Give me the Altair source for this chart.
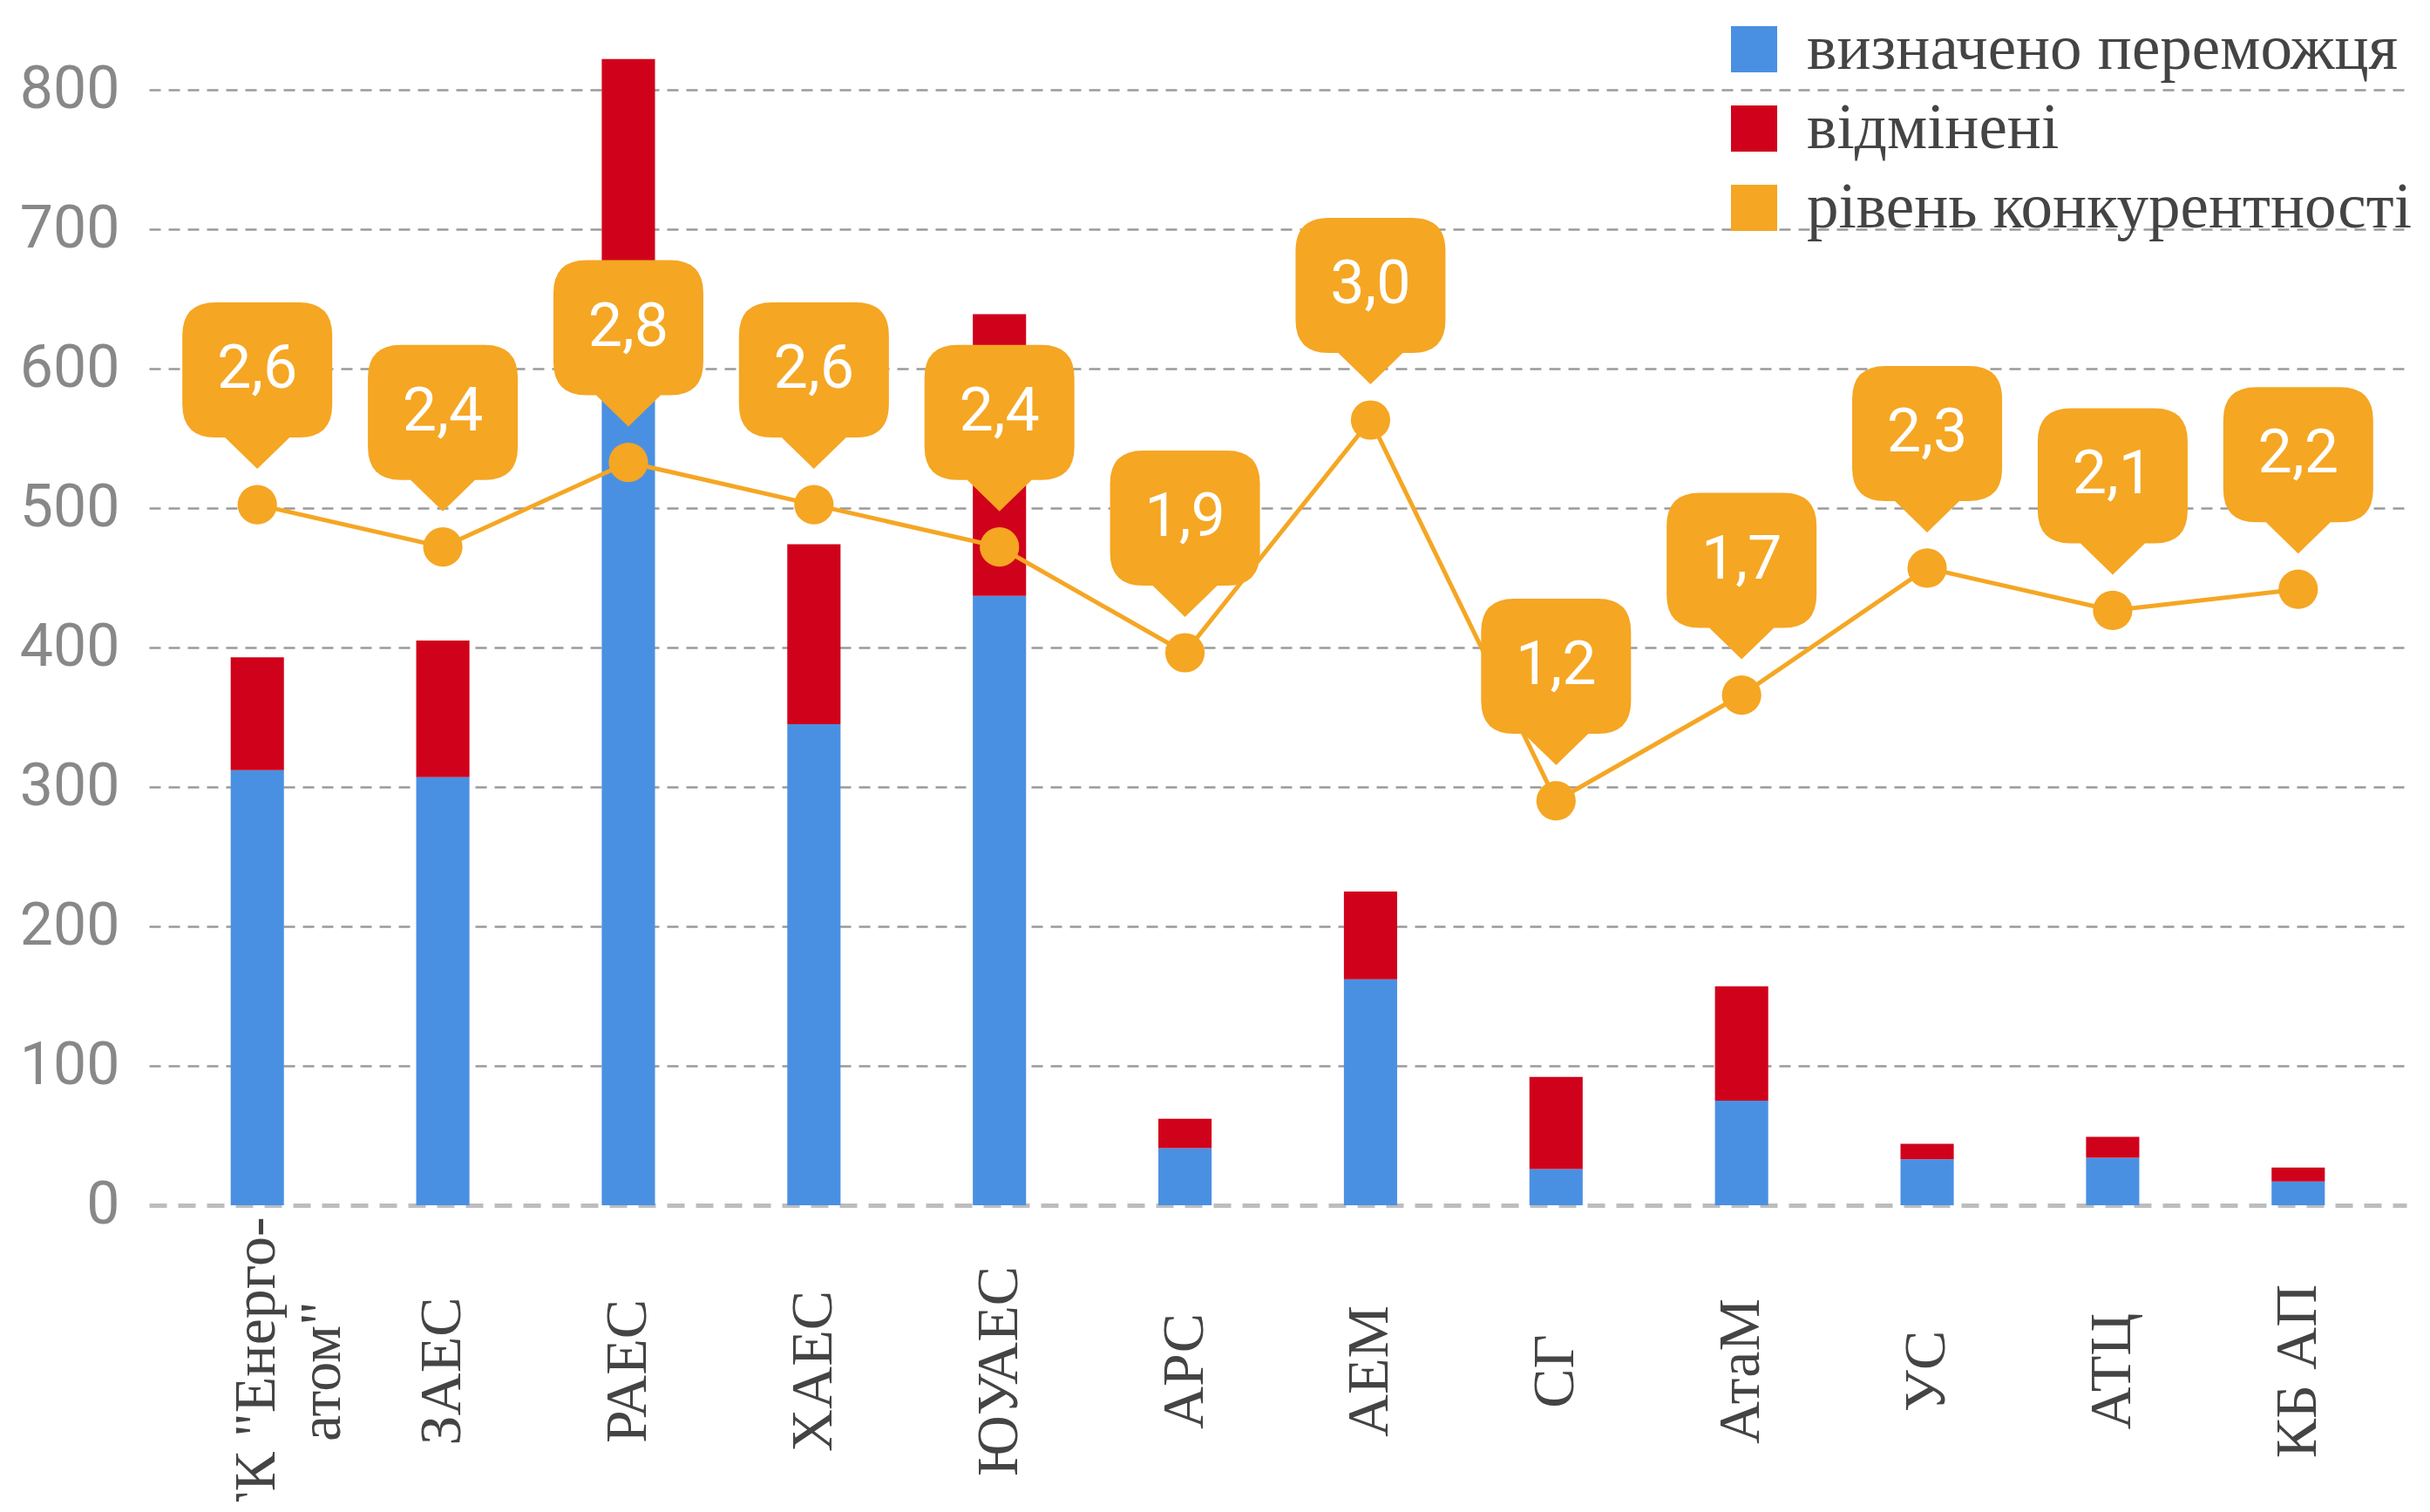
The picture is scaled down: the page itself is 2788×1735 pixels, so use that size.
import json
import altair as alt
import pandas as pd

# ---------------- data ----------------
categories = ['ГК "Енерго-атом"', "ЗАЕС", "РАЕС", "ХАЕС", "ЮУАЕС", "АРС",
              "АЕМ", "СГ", "АтаМ", "УС", "АТЦ", "КБ АП"]
winners = [312, 307, 600, 345, 437, 41, 162, 26, 75, 33, 34, 17]
cancelled = [81, 98, 222, 129, 202, 21, 63, 66, 82, 11, 15, 10]
competition = [2.6, 2.4, 2.8, 2.6, 2.4, 1.9, 3.0, 1.2, 1.7, 2.3, 2.1, 2.2]

series_names = ["визначено переможця", "відмінені", "рівень конкурентності"]
series_colors = ["#4A90E2", "#D0021B", "#F5A623"]
y_ticks = [0, 100, 200, 300, 400, 500, 600, 700, 800]

ORANGE = "#F5A623"

# ---------------- tables ----------------
bar_rows = []
for i, c in enumerate(categories):
    bar_rows.append({"cat": c, "series": series_names[0], "value": winners[i], "ord": 0})
    bar_rows.append({"cat": c, "series": series_names[1], "value": cancelled[i], "ord": 1})
bars_df = pd.DataFrame(bar_rows)

line_df = pd.DataFrame({
    "cat": categories,
    "comp": competition,
    "label": [f"{v:.1f}".replace(".", ",") for v in competition],
})

first_lines = ['ГК "Енерго-', 'атом"']
label_expr = (f"datum.value === {json.dumps(categories[0], ensure_ascii=False)} ? "
              f"{json.dumps(first_lines, ensure_ascii=False)} : datum.label")

x_enc = alt.X(
    "cat:N", sort=categories,
    scale=alt.Scale(paddingInner=0.713, paddingOuter=0.44),
    axis=alt.Axis(
        title=None, labelAngle=-90, labelAlign="center", labelBaseline="middle",
        labelPadding=190, labelFont="Liberation Serif", labelFontSize=68,
        labelColor="#444444", labelLineHeight=75, labelExpr=label_expr,
        labelLimit=2000,
        ticks=False, tickSize=0, grid=False,
        domain=True, domainColor="#bdbdbd", domainWidth=5, domainDash=[20, 13],
        labelOverlap=False,
    ),
)

bars = alt.Chart(bars_df).mark_bar().encode(
    x=x_enc,
    y=alt.Y(
        "value:Q", stack="zero",
        scale=alt.Scale(domain=[0, 850], nice=False),
        axis=alt.Axis(
            title=None, values=y_ticks, grid=True,
            gridDash=[13, 9], gridColor="#9a9a9a", gridWidth=2.5,
            gridOpacity=alt.condition("datum.value === 0", alt.value(0), alt.value(1)),
            domain=False, ticks=False, labelFont="Roboto", labelFontSize=68,
            labelColor="#888888", labelPadding=34,
        ),
    ),
    color=alt.Color(
        "series:N",
        scale=alt.Scale(domain=series_names, range=series_colors),
        legend=alt.Legend(
            title=None, orient="none", legendX=1805, legendY=-3, padding=0,
            symbolType="square", symbolSize=2809, symbolStrokeWidth=0,
            symbolOpacity=1, labelFont="Liberation Serif", labelFontSize=73,
            labelColor="#444444", labelOffset=24, rowPadding=17,
            labelLimit=1000,
        ),
    ),
    order=alt.Order("ord:Q", sort="ascending"),
)

comp_scale = alt.Scale(domain=[-0.712, 4.891], nice=False, zero=False)
y_comp = alt.Y("comp:Q", scale=comp_scale, axis=None)

line = alt.Chart(line_df).mark_line(color=ORANGE, strokeWidth=5).encode(
    x=x_enc, y=y_comp
)
points = alt.Chart(line_df).mark_point(
    filled=True, color=ORANGE, size=2043, opacity=1, shape="circle"
).encode(x=x_enc, y=y_comp)

bubble_path = ("M -0.48 -2.32 L 0.48 -2.32 Q 0.86 -2.32 0.86 -1.94 L 0.86 -1.15 "
               "Q 0.86 -0.77 0.48 -0.77 L 0.37 -0.77 L 0 -0.41 L -0.37 -0.77 "
               "L -0.48 -0.77 Q -0.86 -0.77 -0.86 -1.15 L -0.86 -1.94 "
               "Q -0.86 -2.32 -0.48 -2.32 Z")
bubbles = alt.Chart(line_df).mark_point(
    filled=True, color=ORANGE, size=40000, opacity=1, shape=bubble_path,
    strokeWidth=0,
).encode(x=x_enc, y=y_comp)

texts = alt.Chart(line_df).mark_text(
    dy=-155, fontSize=70, font="Roboto", color="white",
    align="center", baseline="middle",
).encode(x=x_enc, y=y_comp, text="label:N")

chart = (
    alt.layer(bars, line, points, bubbles, texts)
    .resolve_scale(y="independent")
    .properties(
        width=2590, height=1360,
        autosize=alt.AutoSizeParams(type="none"),
        padding={"left": 163, "top": 15, "right": 15, "bottom": 340},
    )
    .configure_view(stroke=None)
)

chart.save("out.html", embed_options={"renderer": "svg", "actions": False})
